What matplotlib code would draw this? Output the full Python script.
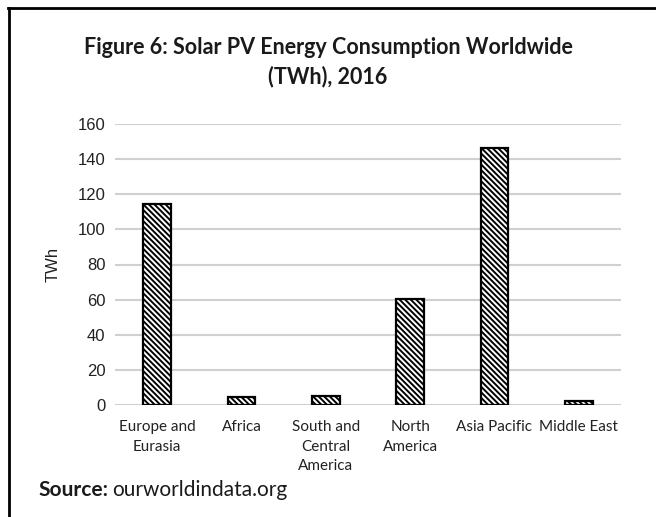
import matplotlib
matplotlib.use("Agg")
import matplotlib.pyplot as plt
from matplotlib.lines import Line2D

categories = ["Europe and\nEurasia", "Africa", "South and\nCentral\nAmerica",
              "North\nAmerica", "Asia Pacific", "Middle East"]
values = [114.7, 4.7, 5.3, 60.4, 146.2, 2.3]
yticks = [0, 20, 40, 60, 80, 100, 120, 140, 160]

plt.rcParams['hatch.linewidth'] = 1.4
plt.rcParams['hatch.color'] = '#3a3a3a'

fig = plt.figure(figsize=(6.56, 5.17), dpi=100)
ax = fig.add_axes([115/656, 1-405/517, (621-115)/656, (405-124)/517])

x = list(range(len(categories)))
ax.bar(x, values, width=0.33, color='white', edgecolor='black', linewidth=1.6,
       hatch='\\\\\\\\\\\\', zorder=3)
ax.set_xlim(-0.5, len(categories)-0.5)
ax.set_ylim(0, 160)
ax.set_yticks(yticks)
ax.set_yticklabels([str(t) for t in yticks], fontfamily='Liberation Sans', fontsize=12, color='#222222')
ax.set_xticks(x)
ax.set_xticklabels(categories, fontfamily='Lato', fontsize=11, color='#222222', linespacing=1.5)
ax.tick_params(axis='both', length=0)
ax.tick_params(axis='x', pad=11)
ax.tick_params(axis='y', pad=7)
ax.grid(axis='y', color='#d0d0d0', linewidth=1.5, zorder=0)
for s in ax.spines.values():
    s.set_visible(False)
ax.set_ylabel("TWh", fontfamily='Liberation Sans', fontsize=12, color='#222222', labelpad=12)

fig.text(0.5, 1-62/517, "Figure 6: Solar PV Energy Consumption Worldwide\n(TWh), 2016",
         ha='center', va='center', fontfamily='Lato', fontweight='bold', fontsize=15.5,
         linespacing=1.45, color='#1a1a1a')

t1 = fig.text(38/656, 1-490/517, "Source:", ha='left', va='center', fontfamily='Lato',
              fontweight='bold', fontsize=15, color='#1a1a1a')
fig.canvas.draw()
bb = t1.get_window_extent()
fig.text((bb.x1 + 4)/656, 1-490/517, "ourworldindata.org", ha='left', va='center',
         fontfamily='Lato', fontsize=15, color='#1a1a1a')

# border lines
fig.add_artist(Line2D([9/656, 9/656], [0, 1-8/517], color='black', linewidth=2, transform=fig.transFigure))
fig.add_artist(Line2D([8/656, 1], [1-8/517, 1-8/517], color='black', linewidth=2, transform=fig.transFigure))

fig.savefig("out.png", dpi=100)
